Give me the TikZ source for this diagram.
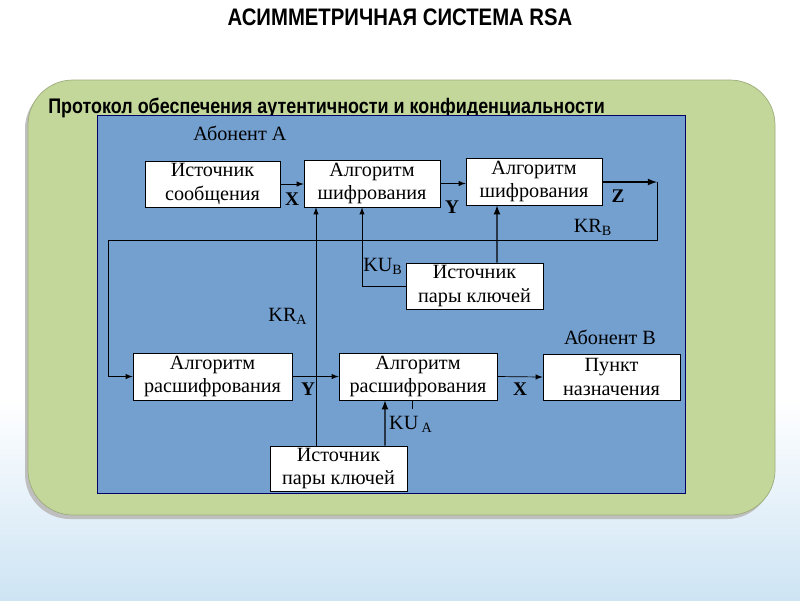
\documentclass[tikz,border=0pt]{standalone}
\usepackage{fontspec}
\setmainfont{Liberation Serif}
\newfontfamily\headfont[FakeStretch=0.85]{Liberation Sans}
\usetikzlibrary{calc}

\definecolor{panelgreen}{RGB}{196,215,155}
\definecolor{panelblue}{RGB}{116,160,208}
\definecolor{skyblue}{RGB}{205,228,244}

\tikzset{
  block/.style={draw=black, fill=white, align=center, inner sep=1pt,
    font=\fontsize{11.5}{13.6}\selectfont},
  sig/.style={font=\fontsize{11}{12}\selectfont\bfseries},
  keylabel/.style={font=\fontsize{11.5}{12}\selectfont},
}

\begin{document}
\begin{tikzpicture}[x=0.02cm,y=-0.02cm,>=latex]
            \useasboundingbox (0,0) rectangle (800,600);

            % Background
            \fill[white] (0,0) rectangle (800,600);
            \shade[top color=white, bottom color=skyblue] (0,400) rectangle (800,600);

            % Title
            \node (title) at (400,17) {\headfont\fontsize{13.6}{15}\selectfont\bfseries АСИММЕТРИЧНАЯ СИСТЕМА RSA};

            % Panels
            \fill[black!25, rounded corners=0.9cm] (25,84) rectangle (772,519);
            \draw[draw=panelgreen!80!black, fill=panelgreen, rounded corners=0.9cm] (28,80) rectangle (775,515);
            \node[anchor=base west, inner sep=0pt] (proto) at (48,113)
              {\headfont\fontsize{12}{14}\selectfont\bfseries Протокол обеспечения аутентичности и конфиденциальности};
            \draw[draw=blue!40!black, fill=panelblue] (97,115) rectangle (685,493);

            \node[keylabel] (subA) at (240,133) {Абонент А};
            \node[keylabel] (subB) at (610,337) {Абонент В};

            % Blocks
            \node[block, minimum width=2.7cm, minimum height=0.92cm] (src) at (212.5,184) {Источник\\сообщения};
            \node[block, minimum width=2.72cm, minimum height=0.94cm] (encA) at (372,183.5) {Алгоритм\\шифрования};
            \node[block, minimum width=2.72cm, minimum height=0.94cm] (encB) at (534,181.5) {Алгоритм\\шифрования};
            \node[block, minimum width=2.74cm, minimum height=0.92cm] (keyB) at (474.5,286) {Источник\\пары ключей};
            \node[block, minimum width=3.18cm, minimum height=0.94cm] (decA) at (212.5,376.5) {Алгоритм\\расшифрования};
            \node[block, minimum width=3.16cm, minimum height=0.94cm] (decB) at (418,376.5) {Алгоритм\\расшифрования};
            \node[block, minimum width=2.74cm, minimum height=0.92cm] (dest) at (611.5,377) {Пункт\\назначения};
            \node[block, minimum width=2.74cm, minimum height=0.9cm] (keyA) at (338.5,468.5) {Источник\\пары ключей};

            % Corners of the KR_B loop
            \coordinate (zend) at (657,182);
            \coordinate (loopR) at (657,240);
            \coordinate (loopL) at (108,240);

            % Connectors
            \draw[->] (src.east) -- (src.east -| encA.west);
            \draw[->] (encA.east) -- (encA.east -| encB.west);
            \draw[->, thick] (encB.east |- zend) -- (zend);
            \draw (zend) -- (loopR) -- (loopL);
            \draw[->] (loopL) |- (decA.west);
            \draw[->, thick] ($(keyB.north)+(22.5,0)$) -- ($(encB.south)+(-37,0)$);
            \draw[->] (keyB.west) -| ($(encA.south)+(-10,0)$);
            \draw[->] ($(keyA.north)+(-22.5,0)$) -- ($(encA.south)+(-56,0)$);
            \draw[->, thick] ($(keyA.north)+(46.5,0)$) -- ($(decB.south)+(-33,0)$);
            \draw[->] (decA.east) -- (decB.west);
            \draw[->] (decB.east) -- (dest.west);
            \draw ($(decB.south)+(-6,0)$) -- ++(0,9);

            % Signal and key labels
            \node[sig] (lx1) at (292,199) {X};
            \node[sig] (ly1) at (452,207) {Y};
            \node[sig] (lz) at (618,196) {Z};
            \node[keylabel] (krb) at (593,227) {KR\textsubscript{B}};
            \node[keylabel] (kub) at (383,266) {KU\textsubscript{B}};
            \node[keylabel] (kra) at (288,316) {KR\textsubscript{A}};
            \node[sig] (ly2) at (308,389) {Y};
            \node[sig] (lx2) at (520,389) {X};
            \node[keylabel] (kua) at (411,424) {KU\,\textsubscript{A}};
        \end{tikzpicture}
\end{document}
